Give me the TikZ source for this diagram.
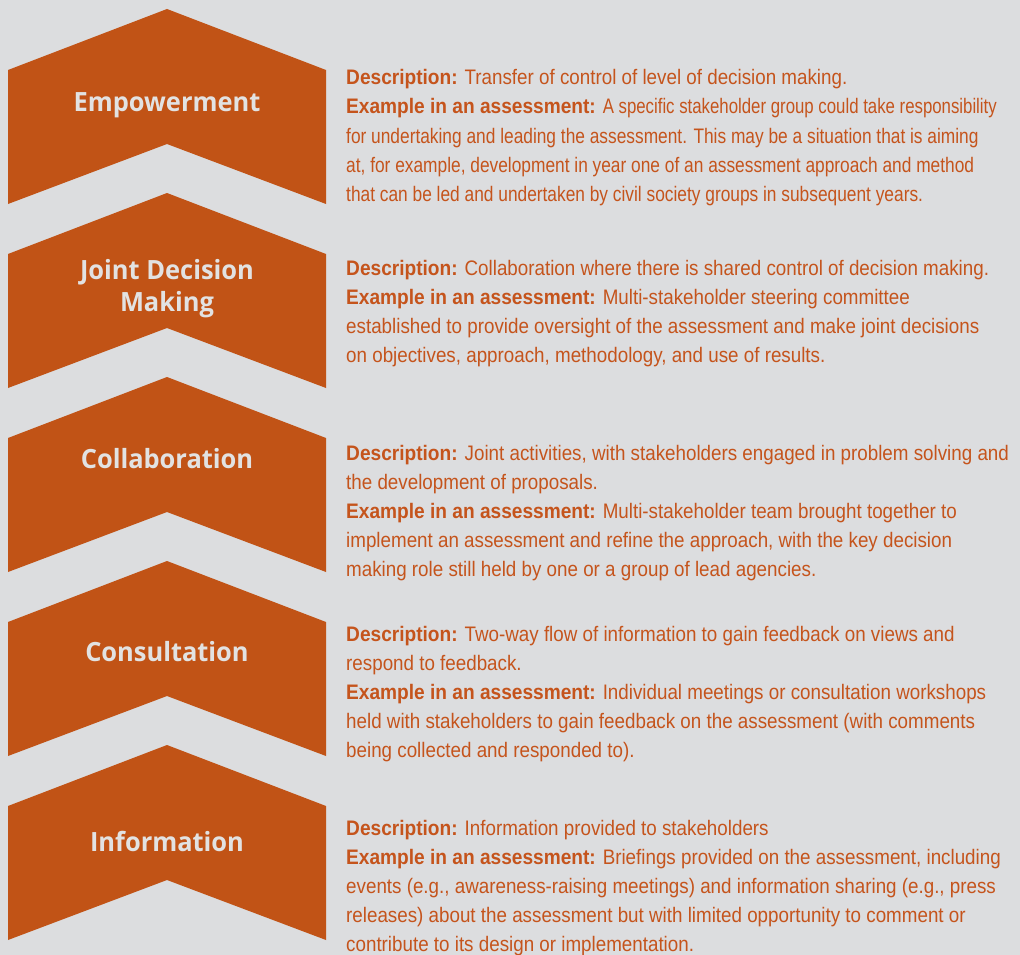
\documentclass[tikz,border=0pt]{standalone}
\usepackage{fontspec}
\setmainfont{Liberation Sans}[FakeStretch=0.895]
\newfontfamily\narrowfont{Liberation Sans}[FakeStretch=0.825]
\newfontfamily\narrowerfont{Liberation Sans}[FakeStretch=0.80]
\newfontfamily\bfont{Liberation Sans}[FakeStretch=0.91]
\newfontfamily\labfont{Open Sans}[FakeStretch=0.96]
\definecolor{bg}{HTML}{DCDDDF}
\definecolor{chev}{HTML}{C15316}
\definecolor{txt}{HTML}{C5541C}
\definecolor{labtxt}{HTML}{E2E2E2}
\newcommand\chev[1]{\fill[chev] (8,#1+61) -- (167,#1) -- (326,#1+61) -- (326,#1+195) -- (167,#1+135) -- (8,#1+195) -- cycle;}
\newcommand\hd[1]{{\bfont\bfseries #1}}
\tikzset{
  body/.style={anchor=base west, inner sep=0pt, text=txt, font=\fontsize{21}{29}\selectfont},
  lab/.style={inner sep=0pt, text=labtxt, font=\labfont\bfseries\fontsize{26.5}{32}\selectfont, align=center}
}
\begin{document}
\begin{tikzpicture}[x=1pt,y=-1pt]
\useasboundingbox (0,0) rectangle (1020,955);
\fill[bg] (0,0) rectangle (1020,955);
\chev{9}\chev{193}\chev{377}\chev{561}\chev{745}
\node[lab, anchor=base] (lab1) at (167,112) {Empowerment};
\node[lab, anchor=center] (lab2) at (167,289) {Joint Decision\\Making};
\node[lab, anchor=base] (lab3) at (167,468) {Collaboration};
\node[lab, anchor=base] (lab4) at (167,661) {Consultation};
\node[lab, anchor=base] (lab5) at (167,851) {Information};
\foreach \ln [count=\i from 0] in {
 {\hd{Description:} Transfer of control of level of decision making.},
 {\hd{Example in an assessment:} \narrowerfont A specific stakeholder group could take responsibility},
 {\narrowfont for undertaking and leading the assessment. This may be a situation that is aiming},
 {\narrowfont at, for example, development in year one of an assessment approach and method},
 {\narrowfont that can be led and undertaken by civil society groups in subsequent years.}}
 \node[body] (a\i) at (346,85+29*\i) {\ln};
\foreach \ln [count=\i from 0] in {
 {\hd{Description:} Collaboration where there is shared control of decision making.},
 {\hd{Example in an assessment:} Multi-stakeholder steering committee},
 {established to provide oversight of the assessment and make joint decisions},
 {on objectives, approach, methodology, and use of results.}}
 \node[body] (b\i) at (346,275+29*\i) {\ln};
\foreach \ln [count=\i from 0] in {
 {\hd{Description:} Joint activities, with stakeholders engaged in problem solving and},
 {the development of proposals.},
 {\hd{Example in an assessment:} Multi-stakeholder team brought together to},
 {implement an assessment and refine the approach, with the key decision},
 {making role still held by one or a group of lead agencies.}}
 \node[body] (c\i) at (346,460+29*\i) {\ln};
\foreach \ln [count=\i from 0] in {
 {\hd{Description:} Two-way flow of information to gain feedback on views and},
 {respond to feedback.},
 {\hd{Example in an assessment:} Individual meetings or consultation workshops},
 {held with stakeholders to gain feedback on the assessment (with comments},
 {being collected and responded to).}}
 \node[body] (d\i) at (346,641+29*\i) {\ln};
\foreach \ln [count=\i from 0] in {
 {\hd{Description:} Information provided to stakeholders},
 {\hd{Example in an assessment:} Briefings provided on the assessment, including},
 {events (e.g., awareness-raising meetings) and information sharing (e.g., press},
 {releases) about the assessment but with limited opportunity to comment or},
 {contribute to its design or implementation.}}
 \node[body] (e\i) at (346,835+29*\i) {\ln};
\end{tikzpicture}
\end{document}
